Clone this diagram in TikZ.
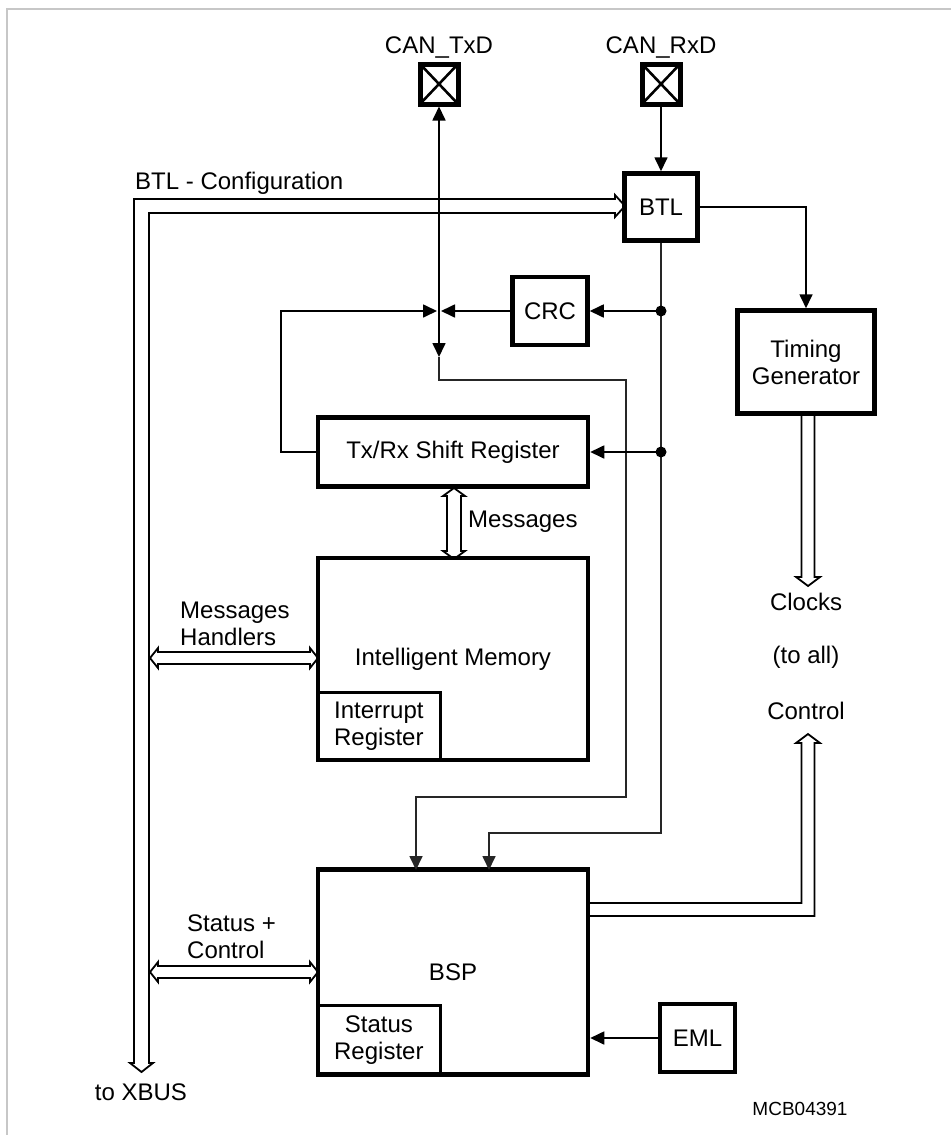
\documentclass[tikz,border=0pt]{standalone}
\usepackage{fontspec}
\setmainfont{Liberation Sans}
\usetikzlibrary{arrows.meta}
\begin{document}
\begin{tikzpicture}[x=1pt,y=-1pt,
  every node/.style={font=\fontsize{24}{27}\selectfont, inner sep=0pt},
  box/.style={draw, line width=4.5pt, fill=white, align=center},
  subbox/.style={draw, line width=3.2pt, align=center},
  pinbox/.style={draw, line width=5pt, fill=white, minimum width=38pt, minimum height=40pt,
    path picture={\draw[line width=2.6pt] (path picture bounding box.south west) -- (path picture bounding box.north east)
      (path picture bounding box.north west) -- (path picture bounding box.south east);}},
  arr/.style={line width=1.7pt, -{Triangle[length=14pt,width=13pt]}},
  route/.style={line width=1.4pt, draw=black!85},
  hollow/.style={draw, line width=1.8pt, fill=white, line join=miter},
  frame/.style={draw=black!22, line width=1.5pt}]
\useasboundingbox (0,0) rectangle (951,1135);
% frame
\draw[frame] (7,1135) -- (7,9) -- (951,9);

% hollow (bus) arrows
\draw[hollow] (141.5,1072) -- (130,1063) -- (134,1063) -- (134,199) -- (615,199) -- (615,195)
  -- (625,206) -- (615,217) -- (615,213) -- (149,213) -- (149,1063) -- (153,1063) -- cycle;
\draw[hollow] (150,658) -- (158,648) -- (158,652) -- (310,652) -- (310,648) -- (318,658)
  -- (310,668) -- (310,664) -- (158,664) -- (158,668) -- cycle;
\draw[hollow] (150,972) -- (158,962) -- (158,966) -- (310,966) -- (310,962) -- (318,972)
  -- (310,982) -- (310,978) -- (158,978) -- (158,982) -- cycle;
\draw[hollow] (454,488) -- (443,496) -- (447,496) -- (447,551) -- (443,551) -- (454,559)
  -- (465,551) -- (461,551) -- (461,496) -- (465,496) -- cycle;
\draw[hollow] (801.5,413) -- (801.5,577) -- (796,577) -- (808,586) -- (820,577) -- (814.5,577) -- (814.5,413);
\draw[hollow] (588,903) -- (801.5,903) -- (801.5,743) -- (796,743) -- (808,734) -- (820,743)
  -- (814.5,743) -- (814.5,916) -- (588,916);

% nodes
\node[pinbox] (txd) at (439,84) {};
\node (txdl) at (439,48) {CAN\_TxD};
\node[pinbox] (rxd) at (661,84) {};
\node (rxdl) at (661,48) {CAN\_RxD};
\node[box, minimum width=73pt, minimum height=67pt] (btl) at (661,207) {BTL};
\node[box, minimum width=75pt, minimum height=68pt] (crc) at (550,311) {CRC};
\node[box, minimum width=137pt, minimum height=103pt] (tg) at (806,362) {Timing\\Generator};
\node[box, minimum width=270pt, minimum height=69pt] (sr) at (453,452) {Tx/Rx Shift Register};
\node[box, minimum width=270pt, minimum height=202pt] (im) at (453,659) {Intelligent Memory};
\node[subbox, minimum width=123pt, minimum height=68pt, anchor=south west] (ir) at (im.south west) {Interrupt\\Register};
\node[box, minimum width=270pt, minimum height=205pt] (bsp) at (453,972) {BSP};
\node[subbox, minimum width=123pt, minimum height=70pt, anchor=south west] (sreg) at (bsp.south west) {Status\\Register};
\node[box, minimum width=75pt, minimum height=68pt] (eml) at (697.5,1038) {EML};

% coordinates
\coordinate (j) at (439,311);
\coordinate (jl) at (437,311);
\coordinate (jr) at (441,311);
\coordinate (jd) at (439,357);
\coordinate (d1) at (661,311);
\coordinate (d2) at (661,452);
\coordinate (b1) at (416,870);
\coordinate (b2) at (489,870);

% connectors
\draw[arr] (rxd.south) -- (btl.north);
\draw[arr] (j) -- (txd.south);
\draw[arr] (crc.west) -- (jr);
\draw[arr] (sr.west) -- ++(-35,0) |- (jl);
\draw[arr] (j) -- (jd);
\draw[route, arr] (jd) |- (626,380) |- (416,797) -- (b1);
\draw[route, arr] (btl.south) |- (489,833) -- (b2);
\draw[arr] (d1) -- (crc.east);
\draw[arr] (d2) -- (sr.east);
\fill (d1) circle (5.5pt);
\fill (d2) circle (5.5pt);
\draw[arr] (btl.east) -| (tg.north);
\draw[arr] (eml.west) -- (eml.west -| bsp.east);

% labels
\node[anchor=west] (lbtl) at (135,183) {BTL - Configuration};
\node[anchor=west] (lmsg) at (468,522) {Messages};
\node[anchor=west, align=left] (lmh) at (180,624) {Messages\\Handlers};
\node[anchor=west, align=left] (lsc) at (187,937) {Status +\\Control};
\node (lclk) at (806,602) {Clocks};
\node (lall) at (806,657) {(to all)};
\node (lctl) at (806,711) {Control};
\node (lxbus) at (141,1092) {to XBUS};
\node[font=\fontsize{19}{22}\selectfont] (lmcb) at (800,1109) {MCB04391};
\end{tikzpicture}
\end{document}
